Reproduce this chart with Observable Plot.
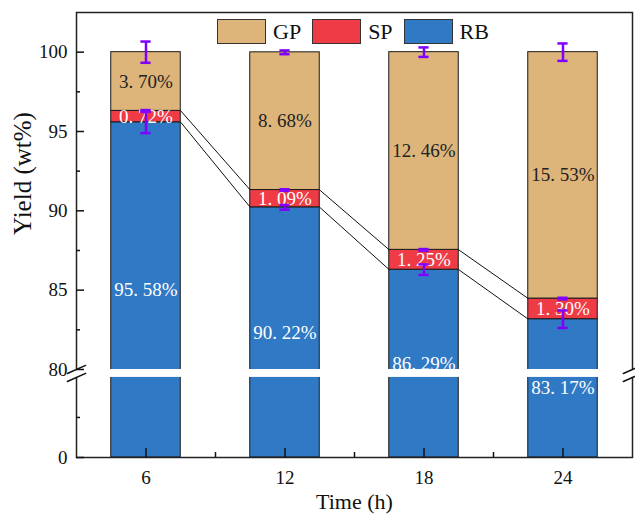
<!DOCTYPE html>
<html>
<head>
<meta charset="utf-8">
<script src="https://cdn.jsdelivr.net/npm/d3@7"></script>
<script src="https://cdn.jsdelivr.net/npm/@observablehq/plot@0.6"></script>
<style>
  html, body { margin: 0; padding: 0; background: #fff; }
  #wrap { position: relative; width: 635px; height: 515px; }
  #legend { position: absolute; top: 19px; left: 217px; display: flex; align-items: center;
            font-family: "Liberation Serif", "Times New Roman", serif; font-size: 22px; color: #111; }
  #legend .sw { width: 47px; height: 23px; border: 1px solid #333; }
  #legend .lb { margin-left: 7px; margin-right: 11px; line-height: 24px; }
</style>
</head>
<body>
<div id="wrap"><div id="legend"></div></div>
<script>
// ---- data ----
const times = [6, 12, 18, 24];
const rb = [95.58, 90.22, 86.29, 83.17];
const sp = [0.72, 1.09, 1.25, 1.30];
const gp = [3.70, 8.68, 12.46, 15.53];
const rbErr = [0.68, 0.15, 0.33, 0.55];
const spErr = [0.05, 0.05, 0.05, 0.05];
const gpErr = [0.67, 0.12, 0.30, 0.55];
const seriesNames = ["GP", "SP", "RB"];
const seriesColors = ["#DDB57A", "#EE3B45", "#3079C5"];
const yTickValues = [0, 80, 85, 90, 95, 100];
const yMinorValues = [40, 82.5, 87.5, 92.5, 97.5];
const xTickValues = [6, 12, 18, 24];
const xMinorValues = [9, 15, 21];

// ---- broken axis transform ----
const BREAK = 80, GAP = 0.5, LOWER = 1 / 15.85;
const f = v => v >= BREAK ? v : BREAK - GAP - (BREAK - v) * LOWER;

const BAR_HALF = 1.5, CAP_HALF = 0.22;
const ERR_COLOR = "#8000ff";
const FONT = "Liberation Serif, Times New Roman, serif";

const segments = times.flatMap((t, i) => {
  const rbTop = rb[i], spTop = rb[i] + sp[i], gpTop = spTop + gp[i];
  return [
    {t, series: "RB", lo: 0, hi: rbTop, value: rb[i], err: rbErr[i]},
    {t, series: "SP", lo: rbTop, hi: spTop, value: sp[i], err: spErr[i]},
    {t, series: "GP", lo: spTop, hi: gpTop, value: gp[i], err: gpErr[i]}
  ];
});
const fmt = v => v.toFixed(2).replace(".", ". ") + "%";

const links = [];
for (let i = 0; i < times.length - 1; i++) {
  links.push({x1: times[i] + BAR_HALF, x2: times[i + 1] - BAR_HALF, y1: rb[i], y2: rb[i + 1]});
  links.push({x1: times[i] + BAR_HALF, x2: times[i + 1] - BAR_HALF, y1: rb[i] + sp[i], y2: rb[i + 1] + sp[i + 1]});
}

const yLabel = new Map(yTickValues.map(v => [f(v), String(v)]));
const lineShape = {draw(ctx, l) { ctx.moveTo(0, 0); ctx.lineTo(0, -l); }};
const slashes = [
  {x: 3, y: BREAK}, {x: 3, y: BREAK - GAP},
  {x: 27, y: BREAK}, {x: 27, y: BREAK - GAP}
];

const chart = Plot.plot({
  width: 635,
  height: 515,
  marginLeft: 76,
  marginRight: 3,
  marginTop: 12,
  marginBottom: 58,
  style: {fontFamily: FONT, fontSize: "19px", background: "white", overflow: "visible", color: "#111"},
  x: {domain: [3, 27]},
  y: {domain: [f(0), 102.5]},
  color: {domain: seriesNames, range: seriesColors},
  marks: [
    Plot.rect(segments, {
      x1: d => d.t - BAR_HALF, x2: d => d.t + BAR_HALF,
      y1: d => f(d.lo), y2: d => f(d.hi),
      fill: "series", stroke: "#1a1a1a", strokeWidth: 1
    }),
    Plot.text(segments, {
      x: "t", y: d => (f(d.lo) + f(d.hi)) / 2,
      text: d => fmt(d.value),
      fill: d => d.series === "GP" ? "#222" : "#fff",
      fontSize: 19, fontFamily: FONT
    }),
    Plot.link(links, {
      x1: "x1", x2: "x2", y1: d => f(d.y1), y2: d => f(d.y2),
      stroke: "#111", strokeWidth: 1
    }),
    Plot.frame({stroke: "#222", strokeWidth: 1.5}),
    Plot.rect([0], {
      x1: 3, x2: 27, y1: BREAK - GAP, y2: BREAK,
      fill: "white", insetLeft: -4, insetRight: -4
    }),
    Plot.vector(slashes, {
      x: "x", y: "y", length: 20, rotate: 66, anchor: "middle",
      shape: lineShape, stroke: "#111", strokeWidth: 1.5
    }),
    Plot.ruleX(segments, {
      x: "t", y1: d => f(d.hi - d.err), y2: d => f(d.hi + d.err),
      stroke: ERR_COLOR, strokeWidth: 2.5
    }),
    Plot.ruleY(segments, {
      x1: d => d.t - CAP_HALF, x2: d => d.t + CAP_HALF, y: d => f(d.hi - d.err),
      stroke: ERR_COLOR, strokeWidth: 2.5
    }),
    Plot.ruleY(segments, {
      x1: d => d.t - CAP_HALF, x2: d => d.t + CAP_HALF, y: d => f(d.hi + d.err),
      stroke: ERR_COLOR, strokeWidth: 2.5
    }),
    Plot.axisY({
      ticks: yTickValues.map(f), tickFormat: d => yLabel.get(d),
      tickSize: -8, tickPadding: 17, fontSize: 19, label: null, stroke: "#111", strokeWidth: 1.5
    }),
    Plot.axisY({
      ticks: yMinorValues.map(f), tickFormat: () => "",
      tickSize: -4, tickPadding: 0, label: null, stroke: "#111", strokeWidth: 1.5
    }),
    Plot.axisX({
      ticks: xTickValues, tickFormat: d => String(d),
      tickSize: -9, tickPadding: 22, fontSize: 19, label: null, stroke: "#111", strokeWidth: 1.5
    }),
    Plot.axisX({
      ticks: xMinorValues, tickFormat: () => "",
      tickSize: -5, tickPadding: 0, label: null, stroke: "#111", strokeWidth: 1.5
    }),
    Plot.text(["Yield (wt%)"], {
      frameAnchor: "left", rotate: -90, dx: -54, fontSize: 25, fontFamily: FONT, fill: "#111"
    }),
    Plot.text(["Time (h)"], {
      frameAnchor: "bottom", dy: 51, fontSize: 22, fontFamily: FONT, fill: "#111"
    })
  ]
});

const wrap = document.getElementById("wrap");
wrap.insertBefore(chart, wrap.firstChild);

const legend = document.getElementById("legend");
seriesNames.forEach((name, i) => {
  const sw = document.createElement("div");
  sw.className = "sw";
  sw.style.background = seriesColors[i];
  const lb = document.createElement("div");
  lb.className = "lb";
  lb.textContent = name;
  legend.appendChild(sw);
  legend.appendChild(lb);
});
</script>
</body>
</html>
